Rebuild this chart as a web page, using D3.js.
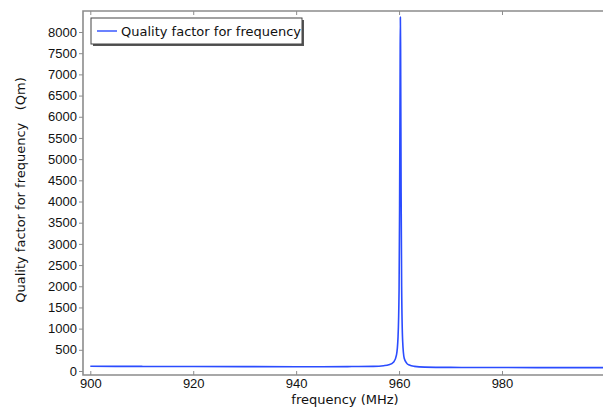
<!DOCTYPE html>
<html>
<head>
<meta charset="utf-8">
<script src="https://cdnjs.cloudflare.com/ajax/libs/d3/7.8.5/d3.min.js"></script>
<style>
	body { margin: 0; background: #fff; }
	svg { display: block; font-family: "DejaVu Sans", sans-serif; }
</style>
</head>
<body>
<svg id="chart" width="603" height="407"></svg>
<script>

	// frequency (MHz) and quality factor
	var freq = [900, 910, 920, 930, 940, 945, 950, 955, 957, 958, 959, 959.5, 959.8, 960.0, 960.1, 960.2, 960.25,
		960.3, 960.4, 960.5, 960.7, 961, 961.5, 962, 963, 965, 970, 980, 990, 1000];
	var qm = [112, 108, 105, 103, 102, 102, 104, 110, 125, 145, 220, 380, 800, 1900, 3800, 7000, 8350,
		7600, 4200, 2000, 700, 300, 180, 140, 110, 92, 85, 82, 80, 79];

	var xTicks = [900, 920, 940, 960, 980];
	var yTicks = d3.range(0, 8001, 500);
	var seriesName = "Quality factor for frequency";

	var svg = d3.select("#chart"),
		margin = {top: 11, right: 0, bottom: 32, left: 83},
		width = +svg.attr("width") - margin.left - margin.right,
		height = +svg.attr("height") - margin.top - margin.bottom,
		g = svg.append("g").attr("transform", "translate(" + margin.left + "," + margin.top + ")");

	var x = d3.scaleLinear()
		.domain([898.58, 999.63])
		.range([0, width]);

	var y = d3.scaleLinear()
		.domain([-94.4, 8495.6])
		.range([height, 0]);

	var axisGrey = "#8c8c8c";

	// y axis, ticks outside
	var yAxis = g.append("g")
		.call(d3.axisLeft(y).tickValues(yTicks).tickSize(4).tickPadding(2).tickFormat(d3.format("d")));
	yAxis.select(".domain").remove();
	yAxis.selectAll("line").attr("stroke", axisGrey);
	yAxis.selectAll("text").attr("fill", "#111").style("font-size", "13px");

	// x axis, ticks inside
	var xAxis = g.append("g")
		.attr("transform", "translate(0," + height + ")")
		.call(d3.axisBottom(x).tickValues(xTicks).tickSizeInner(-4).tickSizeOuter(0).tickPadding(4).tickFormat(d3.format("d")));
	xAxis.select(".domain").remove();
	xAxis.selectAll("line").attr("stroke", axisGrey);
	xAxis.selectAll("text").attr("fill", "#111").style("font-size", "13px");

	// top ticks pointing down
	var topAxis = g.append("g")
		.call(d3.axisTop(x).tickValues(xTicks).tickSizeInner(-4).tickSizeOuter(0).tickFormat(""));
	topAxis.select(".domain").remove();
	topAxis.selectAll("line").attr("stroke", axisGrey);

	// frame
	g.append("path")
		.attr("d", "M" + width + ",0H0V" + height + "H" + width)
		.attr("fill", "none")
		.attr("stroke", axisGrey)
		.attr("stroke-width", 1.6);

	var data = freq.map(function(f, i) { return {f: f, q: qm[i]}; });

	var line = d3.line()
		.x(function(d) { return x(d.f); })
		.y(function(d) { return y(d.q); })
		.curve(d3.curveMonotoneX);

	g.append("path")
		.datum(data)
		.attr("fill", "none")
		.attr("stroke", "#2b4cff")
		.attr("stroke-width", 1.6)
		.attr("stroke-linejoin", "round")
		.attr("d", line);

	// legend
	var lg = svg.append("g").attr("transform", "translate(91,18)");
	lg.append("rect").attr("x", 2).attr("y", 2).attr("width", 211).attr("height", 26).attr("fill", "#555");
	lg.append("rect").attr("x", 0).attr("y", 0).attr("width", 211).attr("height", 26)
		.attr("fill", "#fff").attr("stroke", "#444").attr("stroke-width", 1);
	lg.append("line").attr("x1", 6).attr("x2", 26).attr("y1", 13).attr("y2", 13)
		.attr("stroke", "#2b4cff").attr("stroke-width", 1.4);
	lg.append("text").attr("x", 30).attr("y", 17.5).style("font-size", "13px").attr("fill", "#111").text(seriesName);

	// axis titles
	svg.append("text")
		.attr("x", 345).attr("y", 404)
		.attr("text-anchor", "middle")
		.style("font-size", "13px").attr("fill", "#111")
		.text("frequency (MHz)");

	svg.append("text")
		.attr("transform", "translate(25,190) rotate(-90)")
		.attr("text-anchor", "middle")
		.style("font-size", "13px").attr("fill", "#111")
		.attr("xml:space", "preserve")
		.text("Quality factor for frequency   (Qm)");

</script>
</body>
</html>
